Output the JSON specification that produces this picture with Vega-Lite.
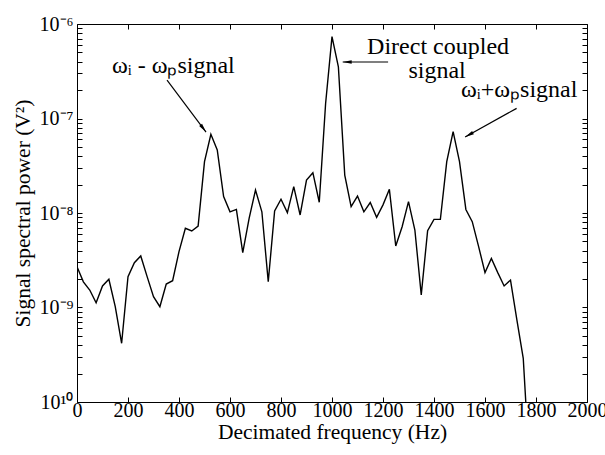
{
  "$schema": "https://vega.github.io/schema/vega-lite/v6.json",
  "width": 510,
  "height": 378,
  "autosize": "none",
  "padding": {"left": 77, "top": 24, "right": 18, "bottom": 53},
  "background": "white",
  "config": {
    "font": "'Liberation Serif', 'Times New Roman', serif",
    "view": {"stroke": "black", "strokeWidth": 1},
    "axis": {
      "domain": false,
      "grid": false,
      "tickColor": "black",
      "tickSize": -5,
      "tickWidth": 1,
      "labelColor": "black",
      "labelFont": "'Liberation Serif', 'Times New Roman', serif",
      "labelFontSize": 20,
      "titleFont": "'Liberation Serif', 'Times New Roman', serif",
      "titleFontSize": 21.5,
      "titleFontWeight": "normal",
      "titleColor": "black"
    }
  },
  "datasets": {
    "spectrum": [
      {"f": 0, "p": 2.70e-9}, {"f": 25, "p": 1.87e-9}, {"f": 50, "p": 1.53e-9}, {"f": 75, "p": 1.12e-9},
      {"f": 100, "p": 1.69e-9}, {"f": 125, "p": 1.99e-9}, {"f": 150, "p": 1.02e-9}, {"f": 175, "p": 4.18e-10},
      {"f": 200, "p": 2.12e-9}, {"f": 225, "p": 2.98e-9}, {"f": 250, "p": 3.51e-9}, {"f": 275, "p": 2.12e-9},
      {"f": 300, "p": 1.30e-9}, {"f": 325, "p": 1.02e-9}, {"f": 350, "p": 1.77e-9}, {"f": 375, "p": 1.92e-9},
      {"f": 400, "p": 3.90e-9}, {"f": 425, "p": 6.89e-9}, {"f": 450, "p": 6.46e-9}, {"f": 475, "p": 7.28e-9},
      {"f": 500, "p": 3.49e-8}, {"f": 525, "p": 6.81e-8}, {"f": 550, "p": 4.65e-8}, {"f": 575, "p": 1.49e-8},
      {"f": 600, "p": 1.03e-8}, {"f": 625, "p": 1.09e-8}, {"f": 650, "p": 3.81e-9}, {"f": 675, "p": 8.79e-9},
      {"f": 700, "p": 1.75e-8}, {"f": 725, "p": 1.03e-8}, {"f": 750, "p": 1.87e-9}, {"f": 775, "p": 1.05e-8},
      {"f": 800, "p": 1.40e-8}, {"f": 825, "p": 1.01e-8}, {"f": 850, "p": 1.90e-8}, {"f": 875, "p": 9.53e-9},
      {"f": 900, "p": 2.23e-8}, {"f": 925, "p": 2.67e-8}, {"f": 950, "p": 1.30e-8}, {"f": 975, "p": 1.45e-7},
      {"f": 1000, "p": 7.35e-7}, {"f": 1025, "p": 3.53e-7}, {"f": 1050, "p": 2.52e-8}, {"f": 1075, "p": 1.17e-8},
      {"f": 1100, "p": 1.51e-8}, {"f": 1125, "p": 1.03e-8}, {"f": 1150, "p": 1.29e-8}, {"f": 1175, "p": 9.0e-9},
      {"f": 1200, "p": 1.22e-8}, {"f": 1225, "p": 1.78e-8}, {"f": 1250, "p": 4.48e-9}, {"f": 1275, "p": 7.16e-9},
      {"f": 1300, "p": 1.32e-8}, {"f": 1325, "p": 6.61e-9}, {"f": 1350, "p": 1.36e-9}, {"f": 1375, "p": 6.5e-9},
      {"f": 1400, "p": 8.57e-9}, {"f": 1425, "p": 8.57e-9}, {"f": 1450, "p": 3.49e-8}, {"f": 1475, "p": 7.26e-8},
      {"f": 1500, "p": 3.49e-8}, {"f": 1525, "p": 1.09e-8}, {"f": 1550, "p": 8.09e-9}, {"f": 1575, "p": 4.41e-9},
      {"f": 1600, "p": 2.34e-9}, {"f": 1625, "p": 3.31e-9}, {"f": 1650, "p": 2.34e-9}, {"f": 1675, "p": 1.69e-9},
      {"f": 1700, "p": 1.95e-9}, {"f": 1725, "p": 7.38e-10}, {"f": 1750, "p": 2.9e-10}, {"f": 1775, "p": 2.0e-11}
    ],
    "labels": [
      {"f": 137, "p": 3.6e-7, "text": "ωᵢ - ωₚsignal", "anchor": "left"},
      {"f": 1506, "p": 2.0e-7, "text": "ωᵢ+ωₚsignal", "anchor": "left"},
      {"f": 1416, "p": 5.7e-7, "text": "Direct coupled", "anchor": "center"},
      {"f": 1412, "p": 3.19e-7, "text": "signal", "anchor": "center"}
    ],
    "arrows": [
      {"f": 353, "p": 2.55e-7, "f2": 506, "p2": 7.19e-8},
      {"f": 1220, "p": 3.96e-7, "f2": 1042, "p2": 3.96e-7},
      {"f": 1724, "p": 1.28e-7, "f2": 1522, "p2": 6.37e-8}
    ]
  },
  "layer": [
    {
      "data": {"name": "spectrum"},
      "mark": {"type": "line", "color": "black", "strokeWidth": 1.4, "clip": true},
      "encoding": {
        "x": {
          "field": "f", "type": "quantitative",
          "scale": {"domain": [0, 2000], "nice": false, "zero": false},
          "axis": {"orient": "bottom", "title": "Decimated frequency (Hz)", "values": [0, 200, 400, 600, 800, 1000, 1200, 1400, 1600, 1800, 2000], "format": "d", "labelPadding": 3, "titlePadding": 1, "labelFlush": false, "labelOverlap": false}
        },
        "y": {
          "field": "p", "type": "quantitative",
          "scale": {"type": "log", "domain": [1e-10, 1e-6], "nice": false},
          "axis": {
            "orient": "left",
            "title": "Signal spectral power (V²)",
            "values": [1e-10, 2e-10, 3e-10, 4e-10, 5e-10, 6e-10, 7e-10, 8e-10, 9e-10, 1e-9, 2e-9, 3e-9, 4e-9, 5e-9, 6e-9, 7e-9, 8e-9, 9e-9, 1e-8, 2e-8, 3e-8, 4e-8, 5e-8, 6e-8, 7e-8, 8e-8, 9e-8, 1e-7, 2e-7, 3e-7, 4e-7, 5e-7, 6e-7, 7e-7, 8e-7, 9e-7, 1e-6],
            "labelExpr": "datum.value == 1e-6 ? '10⁻⁶' : datum.value == 1e-7 ? '10⁻⁷' : datum.value == 1e-8 ? '10⁻⁸' : datum.value == 1e-9 ? '10⁻⁹' : datum.value == 1e-10 ? '10¹⁰' : ''",
            "labelPadding": 9,
            "titlePadding": 5,
            "labelOverlap": false,
            "labelFlush": false
          }
        }
      }
    },
    {
      "data": {"name": "spectrum"},
      "mark": {"type": "point", "opacity": 0},
      "encoding": {
        "x": {"field": "f", "type": "quantitative", "axis": {"orient": "top", "labels": false, "title": null, "values": [0, 200, 400, 600, 800, 1000, 1200, 1400, 1600, 1800, 2000]}},
        "y": {"field": "p", "type": "quantitative", "axis": {"orient": "right", "labels": false, "title": null, "values": [1e-10, 2e-10, 3e-10, 4e-10, 5e-10, 6e-10, 7e-10, 8e-10, 9e-10, 1e-9, 2e-9, 3e-9, 4e-9, 5e-9, 6e-9, 7e-9, 8e-9, 9e-9, 1e-8, 2e-8, 3e-8, 4e-8, 5e-8, 6e-8, 7e-8, 8e-8, 9e-8, 1e-7, 2e-7, 3e-7, 4e-7, 5e-7, 6e-7, 7e-7, 8e-7, 9e-7, 1e-6]}}
      }
    },
    {
      "data": {"name": "arrows"},
      "mark": {"type": "rule", "color": "black", "strokeWidth": 1.2},
      "encoding": {
        "x": {"field": "f", "type": "quantitative", "axis": null},
        "y": {"field": "p", "type": "quantitative", "axis": null},
        "x2": {"field": "f2"},
        "y2": {"field": "p2"}
      }
    },
    {
      "data": {"values": [{"f": 506, "p": 7.19e-8}]},
      "mark": {"type": "point", "shape": "M0,0L-0.4,2L0.4,2Z", "filled": true, "color": "black", "opacity": 1, "size": 81, "angle": 143},
      "encoding": {"x": {"field": "f", "type": "quantitative", "axis": null}, "y": {"field": "p", "type": "quantitative", "axis": null}}
    },
    {
      "data": {"values": [{"f": 1042, "p": 3.96e-7}]},
      "mark": {"type": "point", "shape": "M0,0L-0.4,2L0.4,2Z", "filled": true, "color": "black", "opacity": 1, "size": 81, "angle": 270},
      "encoding": {"x": {"field": "f", "type": "quantitative", "axis": null}, "y": {"field": "p", "type": "quantitative", "axis": null}}
    },
    {
      "data": {"values": [{"f": 1522, "p": 6.37e-8}]},
      "mark": {"type": "point", "shape": "M0,0L-0.4,2L0.4,2Z", "filled": true, "color": "black", "opacity": 1, "size": 81, "angle": 241},
      "encoding": {"x": {"field": "f", "type": "quantitative", "axis": null}, "y": {"field": "p", "type": "quantitative", "axis": null}}
    },
    {
      "data": {"name": "labels"},
      "transform": [{"filter": "datum.anchor == 'left'"}],
      "mark": {"type": "text", "align": "left", "baseline": "middle", "fontSize": 24, "font": "'Liberation Serif', 'Times New Roman', serif", "color": "black"},
      "encoding": {"x": {"field": "f", "type": "quantitative", "axis": null}, "y": {"field": "p", "type": "quantitative", "axis": null}, "text": {"field": "text"}}
    },
    {
      "data": {"name": "labels"},
      "transform": [{"filter": "datum.anchor == 'center'"}],
      "mark": {"type": "text", "align": "center", "baseline": "middle", "fontSize": 24, "font": "'Liberation Serif', 'Times New Roman', serif", "color": "black"},
      "encoding": {"x": {"field": "f", "type": "quantitative", "axis": null}, "y": {"field": "p", "type": "quantitative", "axis": null}, "text": {"field": "text"}}
    }
  ]
}
